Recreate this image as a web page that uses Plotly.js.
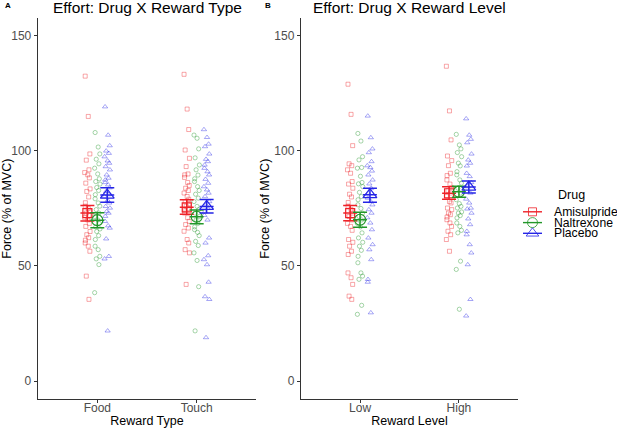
<!DOCTYPE html>
<html>
<head>
<meta charset="utf-8">
<script src="https://cdn.plot.ly/plotly-3.0.1.min.js"></script>
<style>html,body{margin:0;padding:0;background:#fff;}#chart{width:617px;height:428px;}</style>
</head>
<body>
<div id="chart"></div>
<script>
// ---------------- DATA ----------------
const drugs = ['Amisulpride', 'Naltrexone', 'Placebo'];
const typeCategories = ['Food', 'Touch'];
const levelCategories = ['Low', 'High'];
const yTicks = [0, 50, 100, 150];

// Individual points, Panel A (Reward Type)
const foodAmisulpride = [132.5, 115, 98.7, 96, 91.8, 90.6, 89.6, 88.3, 86, 83.5, 82.4, 80, 77.5, 76, 75, 74, 73, 72, 71, 70, 68.5, 67.2, 65, 63.6, 62.3, 61.2, 60, 58.6, 56.4, 45.6, 35.5];
const foodNaltrexone = [108, 101.7, 98.7, 96.4, 94.4, 92.5, 90, 87.9, 86.7, 85.6, 84.1, 82.8, 81, 79.2, 77.4, 76, 74.5, 73, 71.5, 70, 68.5, 67, 66.1, 65, 63.2, 61.5, 58.6, 57.1, 54.2, 53.1, 50.6, 38.4];
const foodPlacebo = [119.2, 106.9, 102.3, 100, 99, 97.5, 95.7, 94.7, 93.2, 91.8, 89.6, 88.2, 87.4, 86.3, 85.3, 84, 82.4, 81, 80.2, 78.5, 77.4, 75.9, 75.2, 73.7, 73, 71.6, 69.4, 67.5, 66.5, 61.8, 54.2, 53.1, 21.8];
const touchAmisulpride = [133.3, 118.2, 109.3, 100.4, 96.8, 93.2, 90, 89.6, 88.5, 86.3, 85, 83.8, 82.8, 81.7, 80.2, 79, 78, 77, 76, 75, 74, 73, 71, 69.4, 68, 66.5, 65.1, 61.5, 60, 57.1, 55.7, 42];
const touchNaltrexone = [106.9, 105.5, 100.9, 97, 93.9, 91.8, 89.5, 87.9, 86.7, 84.5, 82.8, 81.2, 79.5, 78, 75.9, 74.5, 73, 71.5, 70, 68.5, 67, 65.8, 64.6, 63.2, 60.7, 58.9, 55.7, 52.4, 41, 21.8];
const touchPlacebo = [109.3, 105.9, 103, 101.9, 98.7, 96.4, 95.4, 93.9, 92.5, 91, 89.6, 87.7, 86, 84.5, 83.1, 81.7, 80.2, 78, 76.5, 75, 73.5, 72, 70, 62.2, 60, 54.5, 52.8, 50.6, 43, 36.7, 35.5, 18.9];

// Individual points, Panel B (Reward Level)
const lowAmisulpride = [129, 115.9, 102.3, 94.4, 93.6, 91.8, 90.3, 86.7, 85.6, 83.8, 81.2, 80, 77.6, 76, 74.5, 73, 71.5, 70, 68.5, 67.2, 65.5, 61.5, 60.3, 58.6, 56.4, 55, 47, 44.9, 42, 36.9, 35.5];
const lowNaltrexone = [107.6, 104.3, 97.5, 96.1, 92.8, 92.5, 89, 86.3, 85.7, 84.5, 82, 80.2, 78.8, 76.6, 75, 73, 71.5, 70, 68.5, 67, 64.4, 62.2, 60.3, 58.6, 56.8, 54.2, 51.4, 47, 45.6, 44.2, 32.9, 29];
const lowPlacebo = [115.2, 105.8, 100.9, 99.3, 95.4, 93.6, 92.8, 91.3, 89.6, 87.4, 85.7, 83.8, 81.7, 79.5, 78, 76.6, 74.5, 73, 71, 68.7, 65.8, 62.2, 59.3, 57.1, 52.8, 44.2, 43, 29.7];
const highAmisulpride = [136.8, 117.4, 104.8, 97.8, 95.8, 93.6, 90.3, 89.3, 87.4, 85.6, 84, 82.8, 81.7, 80.2, 78, 77.4, 75.2, 74.5, 73, 72.3, 71.3, 70.1, 68.7, 67.2, 65.1, 63.6, 61.5, 56.4];
const highNaltrexone = [107.2, 102.6, 100.9, 99.3, 97.5, 94.7, 93.5, 91, 89.6, 87.4, 86, 83.8, 81.7, 78.8, 77.1, 75.9, 75.2, 73.5, 73, 71.9, 70.9, 68.7, 67.2, 65.5, 64.4, 52.1, 48.5, 31.2];
const highPlacebo = [114, 106.9, 105.1, 103.6, 98.7, 96.1, 94.7, 93.5, 90.3, 88.9, 86.3, 84.5, 81.7, 79.1, 77.4, 75.2, 74.8, 73, 70.5, 68, 65.1, 63.6, 59.3, 55.7, 50.6, 35.5, 28.3];

// Means and error-bar limits, per drug, per category [cat1, cat2]
const typeMeanAmisulpride = [73.0, 75.5], typeLowAmisulpride = [69.6, 72.5], typeHighAmisulpride = [76.3, 78.8];
const typeMeanNaltrexone = [69.9, 71.4], typeLowNaltrexone = [66.6, 68.4], typeHighNaltrexone = [73.1, 74.3];
const typeMeanPlacebo = [80.8, 75.9], typeLowPlacebo = [77.7, 73.0], typeHighPlacebo = [84.0, 78.9];

const levelMeanAmisulpride = [73.0, 81.6], levelLowAmisulpride = [69.7, 79.0], levelHighAmisulpride = [76.3, 84.4];
const levelMeanNaltrexone = [70.1, 82.3], levelLowNaltrexone = [66.8, 79.9], levelHighNaltrexone = [73.3, 84.7];
const levelMeanPlacebo = [81.0, 84.3], levelLowPlacebo = [77.7, 81.7], levelHighPlacebo = [83.8, 86.9];

// ---------------- STYLE ----------------
const FONT = 'Liberation Sans, Arial, Helvetica, sans-serif';
const colors = {Amisulpride: '#EE2228', Naltrexone: '#23972A', Placebo: '#2525E6'};
const pointSymbols = {Amisulpride: 'square-open', Naltrexone: 'circle-open', Placebo: 'triangle-up-open'};
const pointSizes = {Amisulpride: 4, Naltrexone: 4.2, Placebo: 4.6};
const meanSizes = {Amisulpride: 9, Naltrexone: 11, Placebo: 12};
const dodge = {Amisulpride: -0.1, Naltrexone: 0, Placebo: 0.1};
const JITTER = [-0.022, 0.009, 0.025, -0.011, 0.016, -0.027, 0.004, 0.02, -0.016, 0.027, -0.006, 0.013, -0.02];

const panelPoints = {
  A: {Amisulpride: [foodAmisulpride, touchAmisulpride], Naltrexone: [foodNaltrexone, touchNaltrexone], Placebo: [foodPlacebo, touchPlacebo]},
  B: {Amisulpride: [lowAmisulpride, highAmisulpride], Naltrexone: [lowNaltrexone, highNaltrexone], Placebo: [lowPlacebo, highPlacebo]}
};
const panelMeans = {
  A: {Amisulpride: [typeMeanAmisulpride, typeLowAmisulpride, typeHighAmisulpride],
      Naltrexone: [typeMeanNaltrexone, typeLowNaltrexone, typeHighNaltrexone],
      Placebo: [typeMeanPlacebo, typeLowPlacebo, typeHighPlacebo]},
  B: {Amisulpride: [levelMeanAmisulpride, levelLowAmisulpride, levelHighAmisulpride],
      Naltrexone: [levelMeanNaltrexone, levelLowNaltrexone, levelHighNaltrexone],
      Placebo: [levelMeanPlacebo, levelLowPlacebo, levelHighPlacebo]}
};
const axesFor = {A: ['x', 'y'], B: ['x2', 'y2']};

const traces = [];
['A', 'B'].forEach(panel => {
  const [xa, ya] = axesFor[panel];
  drugs.forEach(d => {
    const xs = [], ys = [];
    panelPoints[panel][d].forEach((vals, ci) => {
      vals.forEach((v, i) => {
        xs.push(ci + 1 + dodge[d] + JITTER[(i + ci * 5) % JITTER.length]);
        ys.push(v);
      });
    });
    traces.push({
      type: 'scatter', mode: 'markers', x: xs, y: ys, xaxis: xa, yaxis: ya,
      showlegend: false, hoverinfo: 'skip',
      marker: {symbol: pointSymbols[d], size: pointSizes[d], color: colors[d], opacity: 0.4, line: {width: 1, color: colors[d]}}
    });
  });
});
['A', 'B'].forEach(panel => {
  const [xa, ya] = axesFor[panel];
  drugs.forEach(d => {
    const [m, lo, hi] = panelMeans[panel][d];
    traces.push({
      type: 'scatter', mode: 'markers', xaxis: xa, yaxis: ya, showlegend: false, hoverinfo: 'skip',
      x: m.map((_, ci) => ci + 1 + dodge[d]), y: m,
      marker: {symbol: pointSymbols[d], size: meanSizes[d], color: colors[d], line: {width: 1.2, color: colors[d]}},
      error_y: {type: 'data', symmetric: false, array: m.map((v, i) => hi[i] - v), arrayminus: m.map((v, i) => v - lo[i]),
                color: colors[d], thickness: 1.5, width: 7},
      error_x: {type: 'constant', value: 0.07, color: colors[d], thickness: 1.5, width: 0}
    });
  });
});

// Legend keys (drawn on a transparent overlay axis measured in pixels)
const legendRows = {Amisulpride: 211.8, Naltrexone: 222.6, Placebo: 233.3};
const legendKeyX = [523, 542], legendKeyMid = 532.5;
drugs.forEach(d => {
  traces.push({type: 'scatter', mode: 'lines', xaxis: 'x3', yaxis: 'y3', showlegend: false, hoverinfo: 'skip',
    x: legendKeyX, y: [legendRows[d], legendRows[d]], line: {color: colors[d], width: 1.4}});
  traces.push({type: 'scatter', mode: 'markers', xaxis: 'x3', yaxis: 'y3', showlegend: false, hoverinfo: 'skip',
    x: [legendKeyMid], y: [legendRows[d]],
    marker: {symbol: pointSymbols[d], size: meanSizes[d] - 1, color: colors[d], opacity: 0.8, line: {width: 1, color: colors[d]}}});
});

const W = 617, H = 428;
const yDomain = [0.0678, 0.957];
const commonX = {
  range: [0.4, 2.6], tickvals: [1, 2], showline: true, linecolor: '#333', linewidth: 1,
  ticks: 'outside', ticklen: 3, tickwidth: 1, tickcolor: '#333', showgrid: false, zeroline: false,
  ticklabelstandoff: -5,
  tickfont: {family: FONT, size: 12, color: '#4D4D4D'}, fixedrange: true
};
const commonY = {
  range: [-7.8, 157.6], tickvals: yTicks, ticktext: yTicks.map(String), domain: yDomain,
  showline: true, linecolor: '#333', linewidth: 1, ticks: 'outside', ticklen: 3, tickwidth: 1, tickcolor: '#333',
  showgrid: false, zeroline: false, tickfont: {family: FONT, size: 12, color: '#4D4D4D'}, fixedrange: true,
  title: {text: 'Force (% of MVC)', font: {family: FONT, size: 12.5, color: '#000'}, standoff: 1}
};

const layout = {
  width: W, height: H, margin: {l: 0, r: 0, t: 0, b: 0}, paper_bgcolor: '#fff', plot_bgcolor: 'rgba(0,0,0,0)',
  showlegend: false, hovermode: false, font: {family: FONT},
  xaxis: Object.assign({}, commonX, {domain: [0.0611, 0.4154], anchor: 'y', ticktext: typeCategories,
    title: {text: 'Reward Type', font: {family: FONT, size: 12.5, color: '#000'}, standoff: 5}}),
  yaxis: Object.assign({}, commonY, {anchor: 'x'}),
  xaxis2: Object.assign({}, commonX, {domain: [0.4874, 0.8400], anchor: 'y2', ticktext: levelCategories,
    title: {text: 'Reward Level', font: {family: FONT, size: 12.5, color: '#000'}, standoff: 5}}),
  yaxis2: Object.assign({}, commonY, {anchor: 'x2'}),
  xaxis3: {domain: [0, 1], range: [0, W], visible: false, anchor: 'y3', fixedrange: true},
  yaxis3: {domain: [0, 1], range: [H, 0], visible: false, anchor: 'x3', fixedrange: true},
  annotations: [
    {text: 'Effort: Drug X Reward Type', xref: 'paper', yref: 'paper', x: 147 / W, y: 1 - 7.5 / H, xanchor: 'center', yanchor: 'middle', showarrow: false, font: {family: FONT, size: 15.5, color: '#000'}},
    {text: 'Effort: Drug X Reward Level', xref: 'paper', yref: 'paper', x: 409.5 / W, y: 1 - 7.5 / H, xanchor: 'center', yanchor: 'middle', showarrow: false, font: {family: FONT, size: 15.5, color: '#000'}},
    {text: '<b>A</b>', xref: 'paper', yref: 'paper', x: 3 / W, y: 1 - 5.5 / H, xanchor: 'left', yanchor: 'middle', showarrow: false, font: {family: FONT, size: 8, color: '#000'}},
    {text: '<b>B</b>', xref: 'paper', yref: 'paper', x: 263 / W, y: 1 - 5.5 / H, xanchor: 'left', yanchor: 'middle', showarrow: false, font: {family: FONT, size: 8, color: '#000'}},
    {text: 'Drug', xref: 'paper', yref: 'paper', x: 556 / W, y: 1 - 195 / H, xanchor: 'left', yanchor: 'middle', showarrow: false, font: {family: FONT, size: 12.5, color: '#000'}},
  ].concat(drugs.map(d => ({text: d, xref: 'paper', yref: 'paper', x: 552 / W, y: 1 - legendRows[d] / H, xanchor: 'left', yanchor: 'middle', showarrow: false, font: {family: FONT, size: 12.2, color: '#000'}})))
};

Plotly.newPlot('chart', traces, layout, {displayModeBar: false, staticPlot: true});
</script>
</body>
</html>
